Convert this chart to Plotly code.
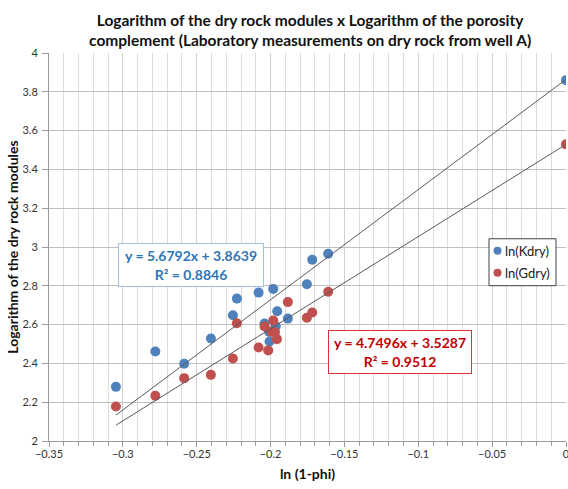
import plotly.graph_objects as go

# ---- data ----
x_k = [-0.3047, -0.278, -0.2585, -0.2404, -0.2255, -0.2228, -0.2081, -0.1982, -0.2041,
       -0.2010, -0.2007, -0.1955, -0.1965, -0.1883, -0.1754, -0.1718, -0.1610, 0.0]
ln_kdry = [2.279, 2.461, 2.398, 2.528, 2.648, 2.734, 2.765, 2.784, 2.606,
           2.563, 2.513, 2.669, 2.592, 2.631, 2.808, 2.934, 2.965, 3.860]

x_g = [-0.3047, -0.278, -0.2585, -0.2404, -0.2255, -0.2228, -0.2081, -0.2041, -0.2016,
       -0.1982, -0.1993, -0.1970, -0.1957, -0.1883, -0.1754, -0.1718, -0.1610, 0.0]
ln_gdry = [2.178, 2.233, 2.324, 2.341, 2.425, 2.607, 2.482, 2.590, 2.467,
           2.621, 2.563, 2.561, 2.525, 2.716, 2.635, 2.662, 2.769, 3.529]

series_names = ["ln(Kdry)", "ln(Gdry)"]
trend_k = [5.6792, 3.8639, 0.8846]   # slope, intercept, R²
trend_g = [4.7496, 3.5287, 0.9512]

BLUE = "#4F81BD"
RED = "#C0504D"
FONT = "Lato, 'Open Sans', sans-serif"

fig = go.Figure()

for xs, ys, name, col in [(x_k, ln_kdry, series_names[0], BLUE), (x_g, ln_gdry, series_names[1], RED)]:
    fig.add_trace(go.Scatter(x=xs, y=ys, mode="markers", name=name, showlegend=False,
                             marker=dict(color=col, size=10, line=dict(width=0))))

for xs, tr in [(x_k, trend_k), (x_g, trend_g)]:
    x0, x1 = min(xs), max(xs)
    fig.add_trace(go.Scatter(x=[x0, x1], y=[tr[0] * x0 + tr[1], tr[0] * x1 + tr[1]],
                             mode="lines", line=dict(color="#595959", width=1),
                             showlegend=False, hoverinfo="skip"))

fig.add_annotation(x=-0.2536, y=2.905, xref="x", yref="y", showarrow=False,
                   text=f"<b>y = {trend_k[0]:.4f}x + {trend_k[1]:.4f}<br>R² = {trend_k[2]:.4f}</b>",
                   font=dict(family=FONT, size=14, color="#2E75B6"),
                   bgcolor="white", bordercolor="#9DC3E6", borderwidth=1, borderpad=3,
                   width=138, height=36, align="center")
fig.add_annotation(x=-0.1125, y=2.461, xref="x", yref="y", showarrow=False,
                   text=f"<b>y = {trend_g[0]:.4f}x + {trend_g[1]:.4f}<br>R² = {trend_g[2]:.4f}</b>",
                   font=dict(family=FONT, size=14, color="#C00000"),
                   bgcolor="white", bordercolor="#E0303A", borderwidth=1, borderpad=3,
                   width=136, height=36, align="center")

# ---- custom legend (box + circles + labels), placed in paper coordinates ----
L, T, W, H = 49, 53, 517, 388.5   # plot area in pixels
def px(xp):
    return (xp - L) / W
def py(yp):
    return (T + H - yp) / H

fig.add_shape(type="rect", xref="paper", yref="paper",
              x0=px(489), x1=px(556), y0=py(286), y1=py(239),
              line=dict(color="#404040", width=1), fillcolor="white", layer="above")
for i, (name, col) in enumerate(zip(series_names, [BLUE, RED])):
    yc = 251 + i * 22
    fig.add_shape(type="circle", xref="paper", yref="paper",
                  x0=px(493.5), x1=px(501.5), y0=py(yc + 4), y1=py(yc - 4),
                  line=dict(width=0), fillcolor=col, layer="above")
    fig.add_annotation(x=px(503), y=py(yc), xref="paper", yref="paper",
                       xanchor="left", yanchor="middle", showarrow=False,
                       text=name, font=dict(family=FONT, size=13, color="#1a1a1a"))

fig.update_layout(
    width=568, height=489,
    margin=dict(l=49, r=2, t=53, b=47.5, autoexpand=False),
    paper_bgcolor="white", plot_bgcolor="white",
    font=dict(family=FONT, color="#404040"),
    title=dict(text="<b>Logarithm of the dry rock modules x Logarithm of the porosity<br>complement (Laboratory measurements on dry rock from well A)</b>",
               x=0.546, xref="container", xanchor="center",
               y=0.947, yref="container", yanchor="middle",
               font=dict(family=FONT, size=15.5, color="#111111")),
    showlegend=False,
    xaxis=dict(range=[-0.35, 0], dtick=0.05, tick0=-0.35, automargin=False,
               showgrid=True, gridcolor="#D0D0D0", gridwidth=1,
               minor=dict(dtick=0.01, showgrid=True, gridcolor="#DCDCDC",
                          ticks="outside", ticklen=4, tickcolor="#9a9a9a"),
               ticks="outside", ticklen=5, tickcolor="#9a9a9a", ticklabelstandoff=-2,
               ticklabeloverflow="allow",
               showline=True, linecolor="#9a9a9a", zeroline=False,
               tickfont=dict(family=FONT, size=11, color="#333333"),
               title=dict(text="<b>ln (1-phi)</b>", font=dict(family=FONT, size=14, color="#111111"),
                          standoff=9)),
    yaxis=dict(range=[2, 4], dtick=0.2, tick0=2, automargin=False,
               showgrid=True, gridcolor="#BFBFBF", gridwidth=1,
               ticks="outside", ticklen=6, tickcolor="#9a9a9a", ticklabelstandoff=2,
               ticklabeloverflow="allow",
               showline=True, linecolor="#9a9a9a", zeroline=False,
               tickfont=dict(family=FONT, size=11, color="#333333"),
               title=dict(text="<b>Logarithm of the dry rock modules</b>",
                          font=dict(family=FONT, size=14, color="#111111"), standoff=0)),
)

fig.write_html("out.html")
